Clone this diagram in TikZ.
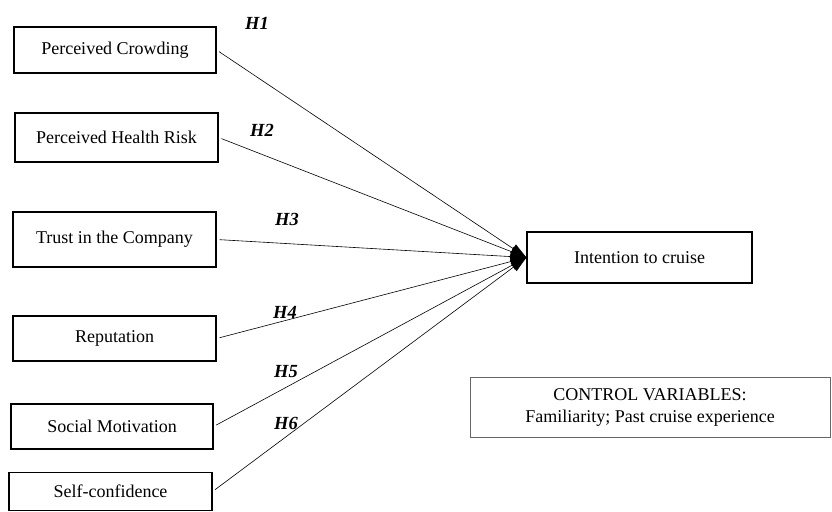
\documentclass[tikz,border=0pt]{standalone}
\usepackage{fontspec}
\setmainfont{Liberation Serif}
\usetikzlibrary{arrows.meta}

\newcommand{\boxfont}{\fontsize{18}{22}\selectfont}
\newcommand{\hypfont}{\fontsize{18.5}{22}\selectfont\bfseries\itshape}

\begin{document}
\begin{tikzpicture}[x=1pt,y=-1pt,
	box/.style={draw, line width=1.2pt, inner sep=0pt, font=\boxfont},
	hyp/.style={font=\hypfont},
	link/.style={-{Triangle[length=16pt,width=10pt]}, line width=0.6pt, shorten <=3pt}]
	\useasboundingbox (0,0) rectangle (832,511);

	% predictors
	\node[box, minimum width=202pt, minimum height=46pt] (crowd) at (115,50) {Perceived Crowding};
	\node[box, minimum width=203pt, minimum height=49pt] (health) at (116.5,137.5) {Perceived Health Risk};
	\node[box, minimum width=203pt, minimum height=55pt] (trust) at (114.5,239.5) {Trust in the Company};
	\node[box, minimum width=203pt, minimum height=45pt] (repu) at (114.5,338.5) {Reputation};
	\node[box, minimum width=202pt, minimum height=45pt] (social) at (112,426.5) {Social Motivation};
	\node[box, minimum width=203pt, minimum height=38pt] (self) at (110.5,491.5) {Self-confidence};

	% outcome
	\node[box, minimum width=225pt, minimum height=51pt] (intent) at (639.5,257.5) {Intention to cruise};
	\node[box, draw=black!60, line width=0.8pt, minimum width=360pt, minimum height=60pt,
		align=center] (ctrl) at (650,407) {CONTROL VARIABLES:\\Familiarity; Past cruise experience};

	\foreach \src in {crowd,health,trust,repu,social,self} {
		\draw[link] (\src.east) -- (intent.west);
	}

	% hypotheses
	\foreach \i/\x/\y in {1/257/23, 2/262/130, 3/287/219, 4/285/312, 5/286/372, 6/286/423} {
		\node[hyp] (h\i) at (\x,\y) {H\i};
	}
\end{tikzpicture}
\end{document}
